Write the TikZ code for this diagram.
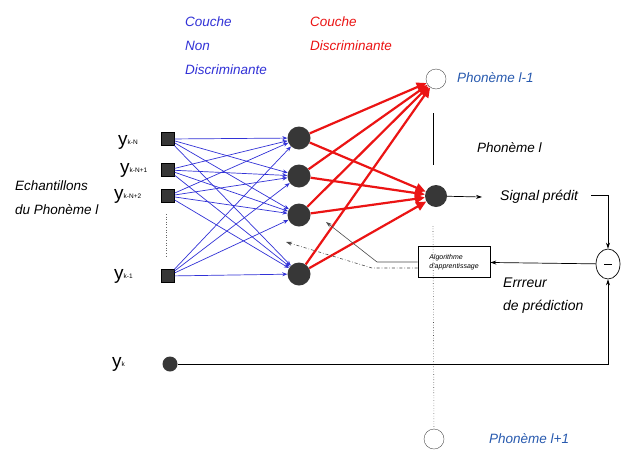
\documentclass[tikz,border=0pt]{standalone}
\usepackage{fontspec}
\setmainfont{Liberation Sans}
\usetikzlibrary{arrows.meta,shapes.geometric}
\definecolor{nblue}{RGB}{50,50,215}
\definecolor{nred}{RGB}{235,20,20}
\definecolor{pblue}{RGB}{40,90,175}
\definecolor{dgray}{RGB}{55,55,55}
\newcommand{\ylab}[1]{{\fontsize{19}{19}\selectfont y}{\fontsize{6.5}{6.5}\selectfont\raisebox{1pt}{#1}}}
\begin{document}
\begin{tikzpicture}[x=1pt,y=-1pt,
  sq/.style={draw=black,fill=dgray,minimum size=13pt,inner sep=0pt},
  hid/.style={circle,fill=dgray,minimum size=23pt,inner sep=0pt},
  ocirc/.style={circle,draw=black!70,fill=white,minimum size=20pt,inner sep=0pt},
  lbl/.style={font=\itshape\fontsize{13.5}{15}\selectfont,inner sep=0pt},
  blarrow/.style={draw=nblue,line width=0.7pt,-{Stealth[length=5pt,width=4pt]}},
  rdarrow/.style={draw=nred,line width=2.2pt,-{Triangle[length=10pt,width=9pt]}},
  blk/.style={draw=black,line width=0.7pt}]
\useasboundingbox (0,0) rectangle (628,453);
\fill[white] (0,0) rectangle (628,453);
% texts
\node[lbl,text=nblue,anchor=west] (c1) at (185,22) {Couche};
\node[lbl,text=nblue,anchor=west] (c2) at (185,46) {Non};
\node[lbl,text=nblue,anchor=west] (c3) at (185,70) {Discriminante};
\node[lbl,text=nred,anchor=west] (r1) at (310,22) {Couche};
\node[lbl,text=nred,anchor=west] (r2) at (310,46) {Discriminante};
\node[lbl,anchor=west] (e1) at (15,186) {Echantillons};
\node[lbl,anchor=west] (e2) at (15,210) {du Phonème l};
% input squares
\node[sq] (s1) at (168,139) {};
\node[sq] (s2) at (168,170) {};
\node[sq] (s3) at (168,196) {};
\node[sq] (s4) at (168,276) {};
\node[inner sep=0pt,anchor=west] (l1) at (118,142) {\ylab{k-N}};
\node[inner sep=0pt,anchor=west] (l2) at (120,170) {\ylab{k-N+1}};
\node[inner sep=0pt,anchor=west] (l3) at (114,196) {\ylab{k-N+2}};
\node[inner sep=0pt,anchor=west] (l4) at (114,276) {\ylab{k-1}};
\node[inner sep=0pt,anchor=west] (l5) at (112,364) {\ylab{k}};
\coordinate (d1) at (166,214);
\coordinate (d2) at (166,258);
\draw[black!60,dotted,line width=0.6pt] (d1) -- (d2);
% hidden nodes
\node[hid] (h1) at (299,138) {};
\node[hid] (h2) at (299,176) {};
\node[hid] (h3) at (299,215) {};
\node[hid] (h4) at (299,274) {};
\foreach \i in {1,2,3,4}{\foreach \j in {1,2,3,4}{\draw[blarrow] (s\i) -- (h\j);}}
% output and phoneme circles
\node[hid,minimum size=22pt] (o) at (436,196) {};
\node[ocirc] (p1) at (436,79) {};
\node[ocirc] (p2) at (434,439) {};
\node[lbl,text=pblue,anchor=west] (pt1) at (457,78) {Phonème l-1};
\node[lbl,text=pblue,anchor=west] (pt2) at (489,439) {Phonème l+1};
\node[lbl,anchor=west] (pt) at (477,148) {Phonème l};
\coordinate (v1) at (433,113);
\coordinate (v2) at (433,165);
\coordinate (v3) at (433,226);
\draw[blk] (v1) -- (v2);
\draw[black!70,dotted,line width=0.6pt] (v3) -- (p2);
\foreach \j in {1,2,3,4}{\draw[rdarrow] (h\j) -- (p1); \draw[rdarrow] (h\j) -- (o);}
% signal predit
\node[lbl,font=\itshape\fontsize{14}{16}\selectfont,anchor=west] (sp) at (500,197) {Signal prédit};
\coordinate (se) at (482,197);
\draw[blk,-{Stealth[length=6pt,width=4pt]}] (o) -- (se);
\node[ellipse,draw=black,line width=0.7pt,minimum width=24pt,minimum height=30pt,inner sep=0pt] (m) at (608,264) {};
\node[inner sep=0pt] (mt) at (608,264) {\rule{8pt}{0.8pt}};
\coordinate (c) at (608,195);
\coordinate (c0) at (591,195);
\draw[blk,-{Stealth[length=6pt,width=4pt]}] (c0) -- (c) -- (m.north);
% y_k
\node[hid,minimum size=15pt] (yk) at (170,364) {};
\coordinate (cb) at (608,364);
\draw[blk,-{Stealth[length=6pt,width=4pt]}] (yk) -- (cb) -- (m.south);
% algorithm box
\node[draw=black,line width=0.7pt,minimum width=72pt,minimum height=31pt,inner sep=1pt,align=left,font=\itshape\fontsize{7}{9}\selectfont] (box) at (454,262) {Algorithme\\d'apprentissage};
\draw[blk,-{Stealth[length=6pt,width=4pt]}] (m) -- (box);
\node[lbl,font=\itshape\fontsize{14}{16}\selectfont,anchor=west] (er1) at (503,283) {Errreur};
\node[lbl,font=\itshape\fontsize{14}{16}\selectfont,anchor=west] (er2) at (503,307) {de prédiction};
\coordinate (k1) at (377,262);
\coordinate (a1) at (326,222);
\draw[draw=black!70,line width=0.6pt,-{Stealth[length=6pt,width=4pt]}] (box.west) -- (k1) -- (a1);
\coordinate (k2) at (372,268);
\coordinate (a2) at (286,242);
\draw[draw=black!70,line width=0.6pt,dash dot,-{Stealth[length=6pt,width=4pt]}] (box.west |- k2) -- (k2) -- (a2);
\end{tikzpicture}
\end{document}
